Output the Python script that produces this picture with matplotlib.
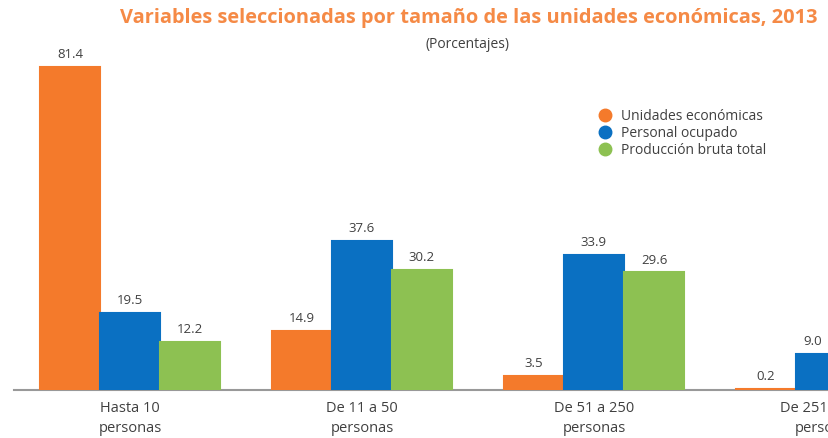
import matplotlib
matplotlib.use("Agg")
import matplotlib.pyplot as plt
import numpy as np
from matplotlib.lines import Line2D

categories = ["Hasta 10\npersonas", "De 11 a 50\npersonas", "De 51 a 250\npersonas", "De 251 y más\npersonas"]
series_names = ["Unidades económicas", "Personal ocupado", "Producción bruta total"]
unidades = [81.4, 14.9, 3.5, 0.2]
personal = [19.5, 37.6, 33.9, 9.0]
produccion = [12.2, 30.2, 29.6, 28.0]
colors = ["#F47A2B", "#0A70C2", "#8DC152"]

W, H = 829, 438
fig = plt.figure(figsize=(W/100, H/100), dpi=100)
ax = fig.add_axes([14/W, (H-390)/H, (W-14)/W, (390-50)/H])

x = np.arange(len(categories))
w = 60/232
text_c = "#404040"
xmax = (W-130)/232
for k, (vals, c) in enumerate(zip([unidades, personal, produccion], colors)):
    pos = x + (k-1)*w
    ax.bar(pos, vals, width=w, color=c, edgecolor=c, linewidth=1.5, zorder=3)
    for p, v in zip(pos, vals):
        if p - w/2 >= xmax:
            continue
        px = min(p, xmax - 0.07)
        ax.text(px, v + 1.5, f"{v:.1f}", ha="center", va="bottom", fontsize=9.5,
                color=text_c, family="Open Sans")

ax.set_xlim(-0.5, xmax)
ax.set_ylim(0, (390-50)/3.97)
for s in ["top", "right", "left"]:
    ax.spines[s].set_visible(False)
ax.spines["bottom"].set_color("#999999")
ax.spines["bottom"].set_linewidth(1.5)
ax.spines["bottom"].set_zorder(1)
ax.set_yticks([])
ax.set_xticks(x)
ax.set_xticklabels(categories, fontsize=10.5, color=text_c, family="Open Sans", linespacing=1.45)
ax.tick_params(axis="x", length=0, pad=8)

handles = [Line2D([0], [0], marker="o", linestyle="", markersize=9, color=c) for c in colors]
fig.legend(handles, series_names, loc="upper left", bbox_to_anchor=(586/W, 1-96/H),
           frameon=False, handletextpad=0.6, labelspacing=0.15,
           prop={"family": "Open Sans", "size": 10}, labelcolor=text_c, handlelength=1.0)

fig.text(469/W, 1-18/H, "Variables seleccionadas por tamaño de las unidades económicas, 2013",
         ha="center", va="center", fontsize=14.4, fontweight="bold", color="#F58A46", family="Open Sans")
fig.text(468/W, 1-45/H, "(Porcentajes)", ha="center", va="center", fontsize=10,
         color=text_c, family="Open Sans")

fig.savefig("out.png", dpi=100)
